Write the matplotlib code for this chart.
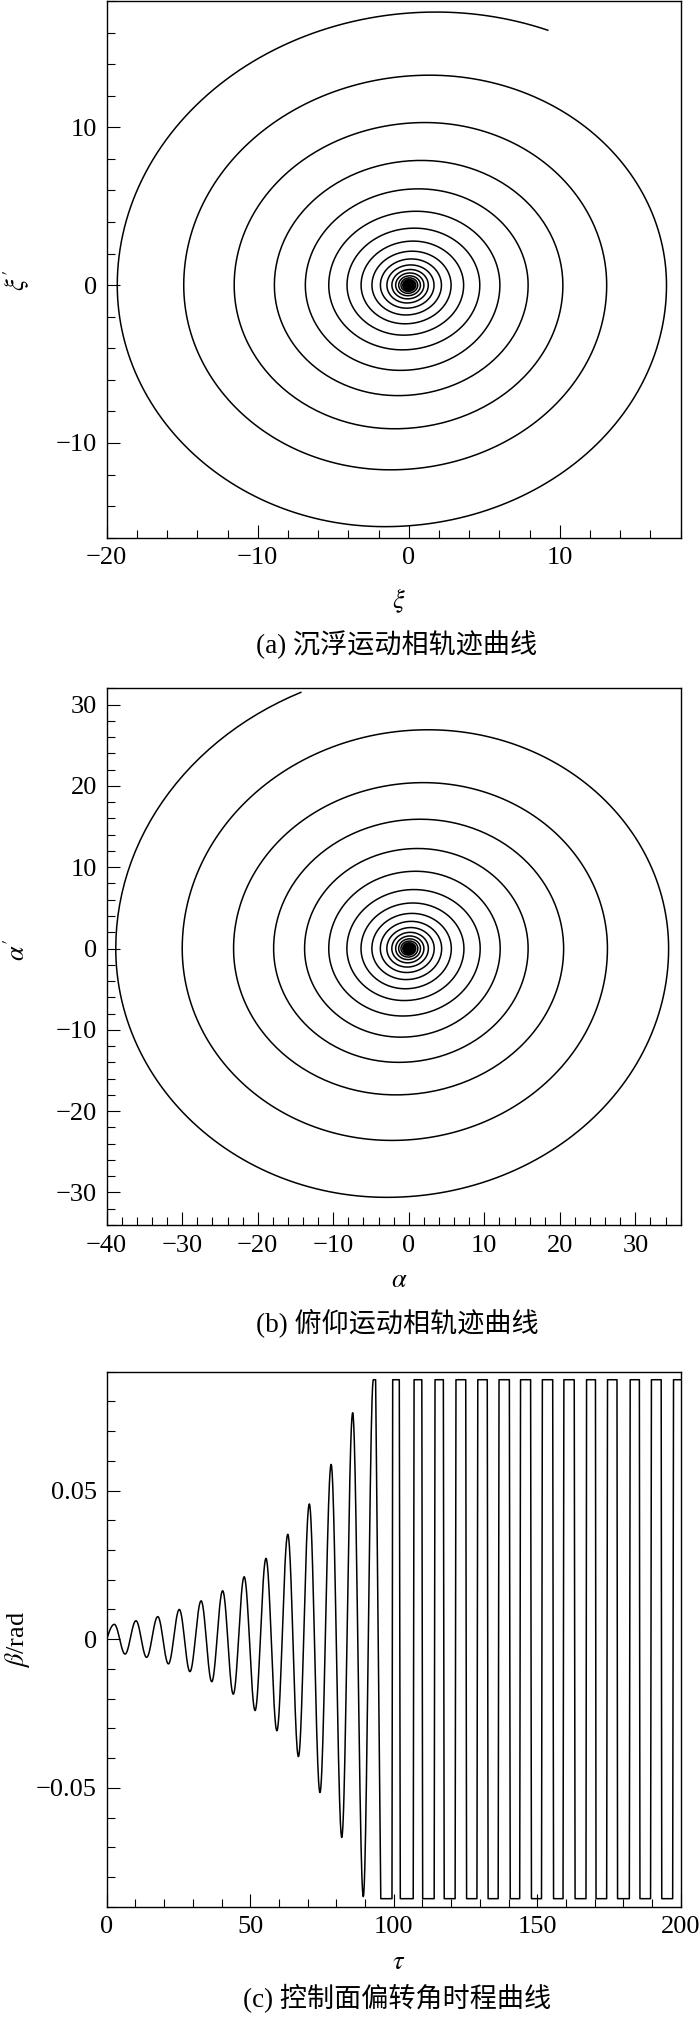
import numpy as np
import matplotlib
matplotlib.use("Agg")
import matplotlib.pyplot as plt
from matplotlib.ticker import MultipleLocator, FuncFormatter

plt.rcParams["font.family"] = ["Liberation Serif", "Noto Sans CJK SC"]
plt.rcParams["mathtext.fontset"] = "stix"
plt.rcParams["axes.unicode_minus"] = True

# (a) heave phase trajectory, turning points of each turn (outermost turn first)
xi_right = [17.06, 13.1, 10.2, 7.9, 6.03, 4.7, 3.63, 2.8, 2.16, 1.67, 1.29, 1.0,
            0.77, 0.59, 0.46, 0.355, 0.274, 0.21, 0.163, 0.126, 0.097, 0.075, 0.058, 0.045]
xi_bottom = [-15.3, -11.7, -9.1, -7.0, -5.4, -4.1, -3.17, -2.45, -1.89, -1.46, -1.13, -0.87,
             -0.67, -0.52, -0.4, -0.31, -0.24, -0.185, -0.143, -0.11, -0.085, -0.066, -0.051, -0.039]
xi_left = [-19.3, -14.9, -11.56, -8.9, -6.85, -5.3, -4.09, -3.16, -2.44, -1.88, -1.45, -1.12,
           -0.87, -0.67, -0.52, -0.4, -0.31, -0.24, -0.185, -0.143, -0.11, -0.085, -0.066, -0.051]
xi_top = [17.3, 13.3, 10.3, 7.9, 6.1, 4.68, 3.61, 2.79, 2.15, 1.66, 1.28, 0.99,
          0.77, 0.59, 0.46, 0.354, 0.273, 0.21, 0.163, 0.126, 0.097, 0.075, 0.058, 0.045]
xi_end = (9.2, 16.15)

# (b) pitch phase trajectory
alpha_top = [26.9, 20.4, 15.9, 12.3, 9.5, 7.25, 5.6, 4.32, 3.34, 2.58, 1.99, 1.54,
             1.19, 0.92, 0.71, 0.55, 0.42, 0.33, 0.25, 0.19, 0.15, 0.116, 0.09, 0.07]
alpha_right = [34.4, 26.3, 20.5, 15.8, 12.1, 9.45, 7.3, 5.63, 4.35, 3.36, 2.59, 2.0,
               1.55, 1.2, 0.92, 0.71, 0.55, 0.43, 0.33, 0.25, 0.195, 0.15, 0.117, 0.09]
alpha_bottom = [-30.6, -23.6, -18.0, -14.0, -10.9, -8.3, -6.4, -4.95, -3.82, -2.95, -2.28, -1.76,
                -1.36, -1.05, -0.81, -0.63, -0.48, -0.37, -0.29, -0.22, -0.17, -0.132, -0.102, -0.079]
alpha_left = [-38.8, -30.0, -23.2, -17.9, -13.8, -10.6, -8.2, -6.33, -4.89, -3.77, -2.91, -2.25,
              -1.74, -1.34, -1.04, -0.8, -0.62, -0.48, -0.37, -0.29, -0.22, -0.17, -0.13, -0.1]
alpha_end = (-14.3, 31.5)

# (c) control surface deflection: extrema before saturation
tau_peak = [2.65, 10.2, 17.8, 25.3, 32.9, 40.4, 47.9, 55.5, 63.1, 70.6, 78.2, 85.7]
beta_peak = [0.0050, 0.0062, 0.0076, 0.0100, 0.0129, 0.0163, 0.0210, 0.0272, 0.0353, 0.0455, 0.0588, 0.0762]
tau_trough = [6.4, 13.9, 21.5, 29.0, 36.6, 44.1, 51.7, 59.3, 66.8, 74.3, 81.9, 89.4]
beta_trough = [-0.0050, -0.0061, -0.0083, -0.0109, -0.0143, -0.0185, -0.0240, -0.0308,
               -0.0395, -0.0516, -0.0667, -0.0866]
beta_sat = 0.0873
# saturated part: plateau start/end times
tau_high_on = [92.9, 99.65, 107.1, 114.4, 121.7, 129.3, 136.7, 144.2, 151.8, 159.3, 167.2, 174.5, 182.4, 189.8, 197.5]
tau_high_off = [93.7, 101.95, 109.8, 117.3, 125.1, 132.6, 140.3, 147.7, 155.4, 162.9, 170.3, 177.8, 185.6, 193.2, 200.0]
tau_low_on = [95.5, 102.3, 110.1, 117.6, 125.4, 132.9, 140.6, 148.0, 155.7, 163.2, 170.5, 178.0, 185.8, 193.4]
tau_low_off = [99.4, 106.8, 114.1, 121.4, 129.0, 136.4, 143.9, 151.5, 159.0, 167.0, 174.2, 182.1, 189.5, 197.2]

W, H = 700, 2018
TH = np.linspace(0, np.pi / 2, 60)


def spiral(seq, skew):
    # seq: time ordered turning points, ("x", value) on the x axis, ("y", value) at max |y|
    pts = [(v, 0.0) if k == "x" else (skew * v, v) for k, v in seq]
    xs, ys = [], []
    for (k1, _), (x1, y1), (x2, y2) in zip(seq, pts, pts[1:]):
        if k1 == "x":
            xs.append(x2 + (x1 - x2) * np.cos(TH))
            ys.append(y2 * np.sin(TH))
        else:
            xs.append(x1 + (x2 - x1) * np.sin(TH))
            ys.append(y1 * np.cos(TH))
    return xs, ys, pts[-1]


def fmt(v, _):
    v = round(v, 6) + 0.0
    return f"{v:g}".replace("-", "\u2212")


def style(ax, xmaj, xmin, ymaj, ymin):
    ax.xaxis.set_major_locator(MultipleLocator(xmaj))
    ax.xaxis.set_minor_locator(MultipleLocator(xmin))
    ax.yaxis.set_major_locator(MultipleLocator(ymaj))
    ax.yaxis.set_minor_locator(MultipleLocator(ymin))
    ax.xaxis.set_major_formatter(FuncFormatter(fmt))
    ax.yaxis.set_major_formatter(FuncFormatter(fmt))
    ax.tick_params(which="both", direction="in", top=False, right=False,
                   width=0.8, labelsize=19, pad=7)
    ax.tick_params(which="major", length=9.5)
    ax.tick_params(which="minor", length=5.5)
    for s in ax.spines.values():
        s.set_linewidth(1.0)


def box(top, bottom, left=106.7, right=680.7):
    return [left / W, (H - bottom) / H, (right - left) / W, (bottom - top) / H]


def labels(ax, top, bottom, xlab, xlab_y, ylab, ylab_y, cap, cap_y):
    ax.set_xlabel(xlab, fontsize=19)
    ax.xaxis.set_label_coords((399 - 106.7) / 574, (bottom - xlab_y) / (bottom - top))
    ax.xaxis.label.set_va("center")
    ax.set_ylabel(ylab, fontsize=19)
    ax.yaxis.set_label_coords((17 - 106.7) / 574, (bottom - ylab_y) / (bottom - top))
    ax.yaxis.label.set_va("center")
    fig.text(397 / W, 1 - cap_y / H, cap, fontsize=19.5, ha="center", va="center")


fig = plt.figure(figsize=(7.0, 20.18), dpi=100)

# ---- (a)
ax1 = fig.add_axes(box(1, 537.7))
seq = []
for k in reversed(range(len(xi_right))):
    seq += [("x", xi_right[k]), ("y", xi_bottom[k]), ("x", xi_left[k]), ("y", xi_top[k])]
xs, ys, (x1, y1) = spiral(seq, 0.104)
th_e = np.arccos(xi_end[1] / y1)
amp = (xi_end[0] - x1) / np.sin(th_e)
t = np.linspace(0, th_e, 30)
xs.append(x1 + amp * np.sin(t))
ys.append(y1 * np.cos(t))
ax1.plot(np.concatenate(xs), np.concatenate(ys), color="black", lw=1.1)
ax1.set_xlim(-20, 18)
ax1.set_ylim(-16, 18)
style(ax1, 10, 2, 10, 2)
labels(ax1, 1, 537.7, r"$\xi$", 601, r"$\xi'$", 280, "(a) 沉浮运动相轨迹曲线", 645)

# ---- (b)
ax2 = fig.add_axes(box(688.3, 1225))
seq = []
for k in reversed(range(len(alpha_right))):
    seq += [("y", alpha_top[k]), ("x", alpha_right[k]), ("y", alpha_bottom[k]), ("x", alpha_left[k])]
xs, ys, (x1, y1) = spiral(seq, 0.095)
yv = alpha_top[0] * alpha_left[0] / alpha_left[1]
th_e = np.arcsin(alpha_end[1] / yv)
xv = (alpha_end[0] - x1 * np.cos(th_e)) / (1 - np.cos(th_e))
t = np.linspace(0, th_e, 30)
xs.append(xv + (x1 - xv) * np.cos(t))
ys.append(yv * np.sin(t))
ax2.plot(np.concatenate(xs), np.concatenate(ys), color="black", lw=1.1)
ax2.set_xlim(-40, 36)
ax2.set_ylim(-34, 32)
style(ax2, 10, 2, 10, 2)
labels(ax2, 688.3, 1225, r"$\alpha$", 1281, r"$\alpha'$", 950, "(b) 俯仰运动相轨迹曲线", 1323)

# ---- (c)
ax3 = fig.add_axes(box(1371.7, 1906.7))
ext = [(0.0, 0.0)]
for tp, bp, tt, bt in zip(tau_peak, beta_peak, tau_trough, beta_trough):
    ext += [(tp, bp), (tt, bt)]
ext.append((tau_high_on[0], beta_sat))
tt_all, bb_all = [], []
s = np.linspace(0, 1, 40)
for i, ((t1, v1), (t2, v2)) in enumerate(zip(ext, ext[1:])):
    tt_all.append(t1 + (t2 - t1) * s)
    if i == 0:
        bb_all.append(v2 * np.sin(np.pi / 2 * s))
    else:
        bb_all.append((v1 + v2) / 2 + (v1 - v2) / 2 * np.cos(np.pi * s))
sq_t, sq_b = [], []
for i in range(len(tau_high_on)):
    sq_t += [tau_high_on[i], tau_high_off[i]]
    sq_b += [beta_sat, beta_sat]
    if i < len(tau_low_on):
        sq_t += [tau_low_on[i], tau_low_off[i]]
        sq_b += [-beta_sat, -beta_sat]
tt_all.append(np.array(sq_t))
bb_all.append(np.array(sq_b))
ax3.plot(np.concatenate(tt_all), np.concatenate(bb_all), color="black", lw=1.1)
ax3.set_xlim(0, 200)
ax3.set_ylim(-0.09, 0.09)
style(ax3, 50, 10, 0.05, 0.01)
labels(ax3, 1371.7, 1906.7, r"$\tau$", 1963, r"$\beta$/rad", 1639, "(c) 控制面偏转角时程曲线", 1999)

fig.savefig("out.png", dpi=100)
